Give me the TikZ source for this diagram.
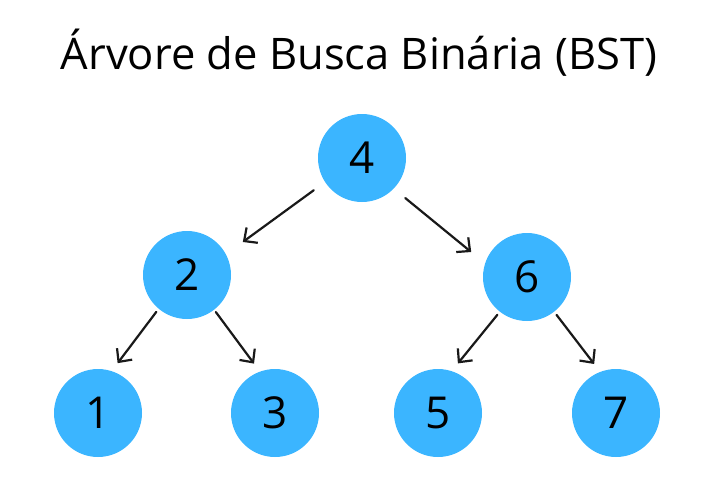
\documentclass[tikz,border=0pt]{standalone}
\usepackage{fontspec}
\setmainfont{Open Sans}
\usepackage{tikz}
\usetikzlibrary{arrows.meta, positioning}
\definecolor{nodeBlue}{HTML}{3BB5FF}
\definecolor{lineBlack}{gray}{0.1}

\begin{document}
\begin{tikzpicture}[x=1pt, y=-1pt, >={Straight Barb[length=10pt, width=19pt]},
    bstnode/.style={circle, fill=nodeBlue, minimum size=88pt, inner sep=0pt, outer sep=0pt,
        font=\fontsize{44}{48}\selectfont},
    edge/.style={->, line width=2.2pt, lineBlack, line cap=round}]
    \useasboundingbox (0,0) rectangle (707,496);

    % title
    \node[anchor=base, font=\fontsize{43.5}{46}\selectfont] (title) at (359,69) {Árvore de Busca Binária (BST)};

    % nodes
    \node[bstnode] (n4) at (362,158) {4};
    \node[bstnode] (n2) at (187,275) {2};
    \node[bstnode] (n6) at (527,277) {6};
    \node[bstnode] (n1) at (98,413) {1};
    \node[bstnode] (n3) at (275,413) {3};
    \node[bstnode] (n5) at (438,413) {5};
    \node[bstnode] (n7) at (616,413) {7};

    % edges
    \draw[edge, shorten <=14pt, shorten >=21pt] (n4.213) -- (n2.28);
    \draw[edge, shorten <=15pt, shorten >=18pt] (n4.-44) -- (n6.162);
    \draw[edge, shorten <=4pt, shorten >=10pt] (n2.-130) -- (n1.72);
    \draw[edge, shorten <=3pt, shorten >=10pt] (n2.-52) -- (n3.110);
    \draw[edge, shorten <=4pt, shorten >=10pt] (n6.-128) -- (n5.72);
    \draw[edge, shorten <=4pt, shorten >=10pt] (n6.-52) -- (n7.111);
\end{tikzpicture}
\end{document}
